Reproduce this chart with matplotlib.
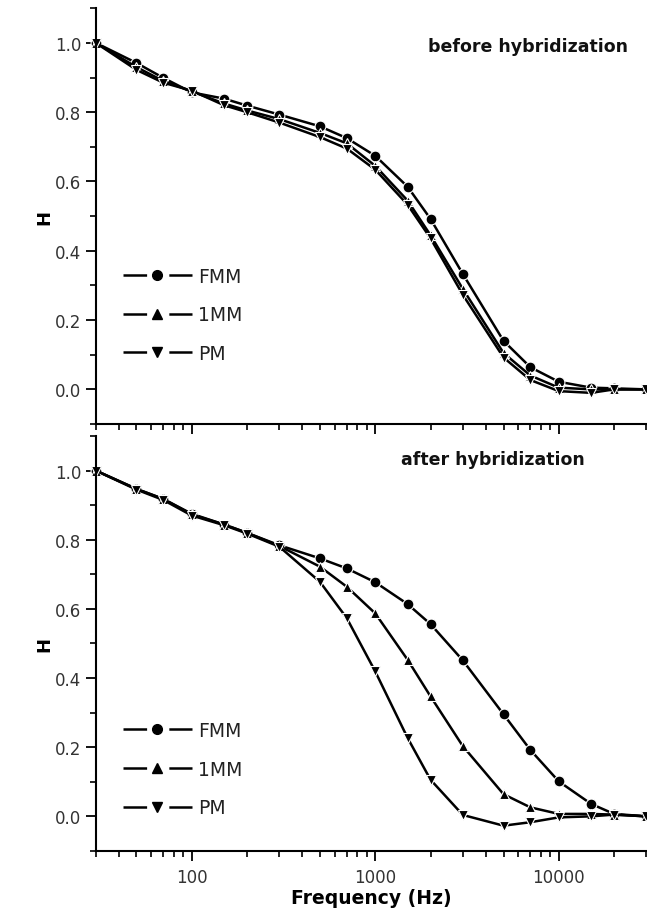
import numpy as np
import matplotlib
matplotlib.use('Agg')
import matplotlib.pyplot as plt
from matplotlib.lines import Line2D
from matplotlib.ticker import FixedLocator, LogLocator, NullFormatter, MultipleLocator

plt.rcParams['font.family'] = ['DejaVu Sans']
plt.rcParams['lines.scale_dashes'] = False

# frequencies (Hz)
freq = [30, 50, 70, 100, 150, 200, 300, 500, 700, 1000, 1500, 2000,
        3000, 5000, 7000, 10000, 15000, 20000, 30000]

# before hybridization
fmm_before = [1.0, 0.942, 0.899, 0.857, 0.839, 0.819, 0.793, 0.759, 0.725, 0.674,
              0.585, 0.492, 0.333, 0.14, 0.064, 0.022, 0.005, 0.003, 0.0]
mm1_before = [1.0, 0.93, 0.89, 0.86, 0.825, 0.805, 0.78, 0.74, 0.71, 0.645,
              0.545, 0.445, 0.29, 0.105, 0.04, 0.005, 0.0, 0.0, 0.0]
pm_before = [1.0, 0.922, 0.885, 0.862, 0.82, 0.80, 0.77, 0.728, 0.695, 0.634,
             0.533, 0.436, 0.273, 0.092, 0.027, -0.005, -0.01, 0.0, 0.0]

# after hybridization
fmm_after = [1.0, 0.947, 0.918, 0.875, 0.844, 0.82, 0.784, 0.746, 0.717, 0.677,
             0.614, 0.556, 0.451, 0.295, 0.192, 0.101, 0.036, 0.007, 0.0]
mm1_after = [1.0, 0.947, 0.918, 0.873, 0.844, 0.82, 0.782, 0.722, 0.664, 0.587,
             0.453, 0.347, 0.203, 0.064, 0.026, 0.007, 0.007, 0.005, 0.0]
pm_after = [1.0, 0.945, 0.915, 0.87, 0.842, 0.818, 0.78, 0.678, 0.573, 0.419,
            0.227, 0.106, 0.004, -0.027, -0.017, -0.003, 0.0, 0.005, 0.0]

labels = ['FMM', '1MM', 'PM']
markers = ['o', '^', 'v']

fig = plt.figure(figsize=(6.47, 9.2), dpi=100)
ax1 = fig.add_axes([0.148, 0.538, 0.851, 0.452])
ax2 = fig.add_axes([0.148, 0.074, 0.851, 0.451])

panels = [
    (ax1, [fmm_before, mm1_before, pm_before], 'before hybridization', (0.967, 0.91), 0.41),
    (ax2, [fmm_after, mm1_after, pm_after], 'after hybridization', (0.889, 0.945), 0.345),
]

for ax, series, title, tpos, legy in panels:
    for vals, mk in zip(series, markers):
        ax.plot(freq, vals, color='black', lw=1.8, marker=mk, ms=7.8,
                mfc='black', mec='white', mew=0.8, clip_on=False)
    ax.set_xscale('log')
    ax.set_xlim(30, 30000)
    ax.set_ylim(-0.1, 1.1)
    ax.spines['top'].set_visible(False)
    ax.spines['right'].set_visible(False)
    ax.spines['left'].set_linewidth(1.5)
    ax.spines['bottom'].set_linewidth(1.5)
    ax.yaxis.set_major_locator(FixedLocator([0.0, 0.2, 0.4, 0.6, 0.8, 1.0]))
    ax.yaxis.set_minor_locator(MultipleLocator(0.1))
    ax.set_yticklabels(['0.0', '0.2', '0.4', '0.6', '0.8', '1.0'])
    ax.xaxis.set_major_locator(FixedLocator([100, 1000, 10000]))
    ax.xaxis.set_minor_locator(LogLocator(base=10, subs=np.arange(2, 10)))
    ax.xaxis.set_minor_formatter(NullFormatter())
    ax.tick_params(axis='both', which='major', direction='out', width=1.3,
                   length=7, labelsize=12, colors='black', labelcolor='#333333')
    ax.tick_params(axis='x', which='major', pad=5)
    ax.tick_params(axis='both', which='minor', direction='out', width=1.2, length=4)
    ax.set_ylabel('H', fontsize=13, fontweight='bold', labelpad=1)
    ax.text(tpos[0], tpos[1], title, transform=ax.transAxes, ha='right', va='center',
            fontsize=12.5, fontweight='bold', color='#111111')

    # legend handles: line - marker - line with gaps around the marker
    handles = []
    for mk in markers:
        seg = Line2D([], [], color='black', lw=1.8, dashes=(17, 16, 17, 0))
        dot = Line2D([], [], color='black', lw=0, marker=mk, ms=7)
        handles.append((seg, dot))
    ax.legend(handles, labels, loc='upper left', bbox_to_anchor=(0.025, legy),
              frameon=False, fontsize=13.5, handlelength=3.7, handletextpad=0.3,
              labelspacing=1.05, borderpad=0.2, labelcolor='#222222')

ax1.set_xticklabels([])
ax2.set_xticklabels(['100', '1000', '10000'])
ax2.set_xlabel('Frequency (Hz)', fontsize=13.5, fontweight='bold', labelpad=2)

fig.savefig('out.png', dpi=100)
